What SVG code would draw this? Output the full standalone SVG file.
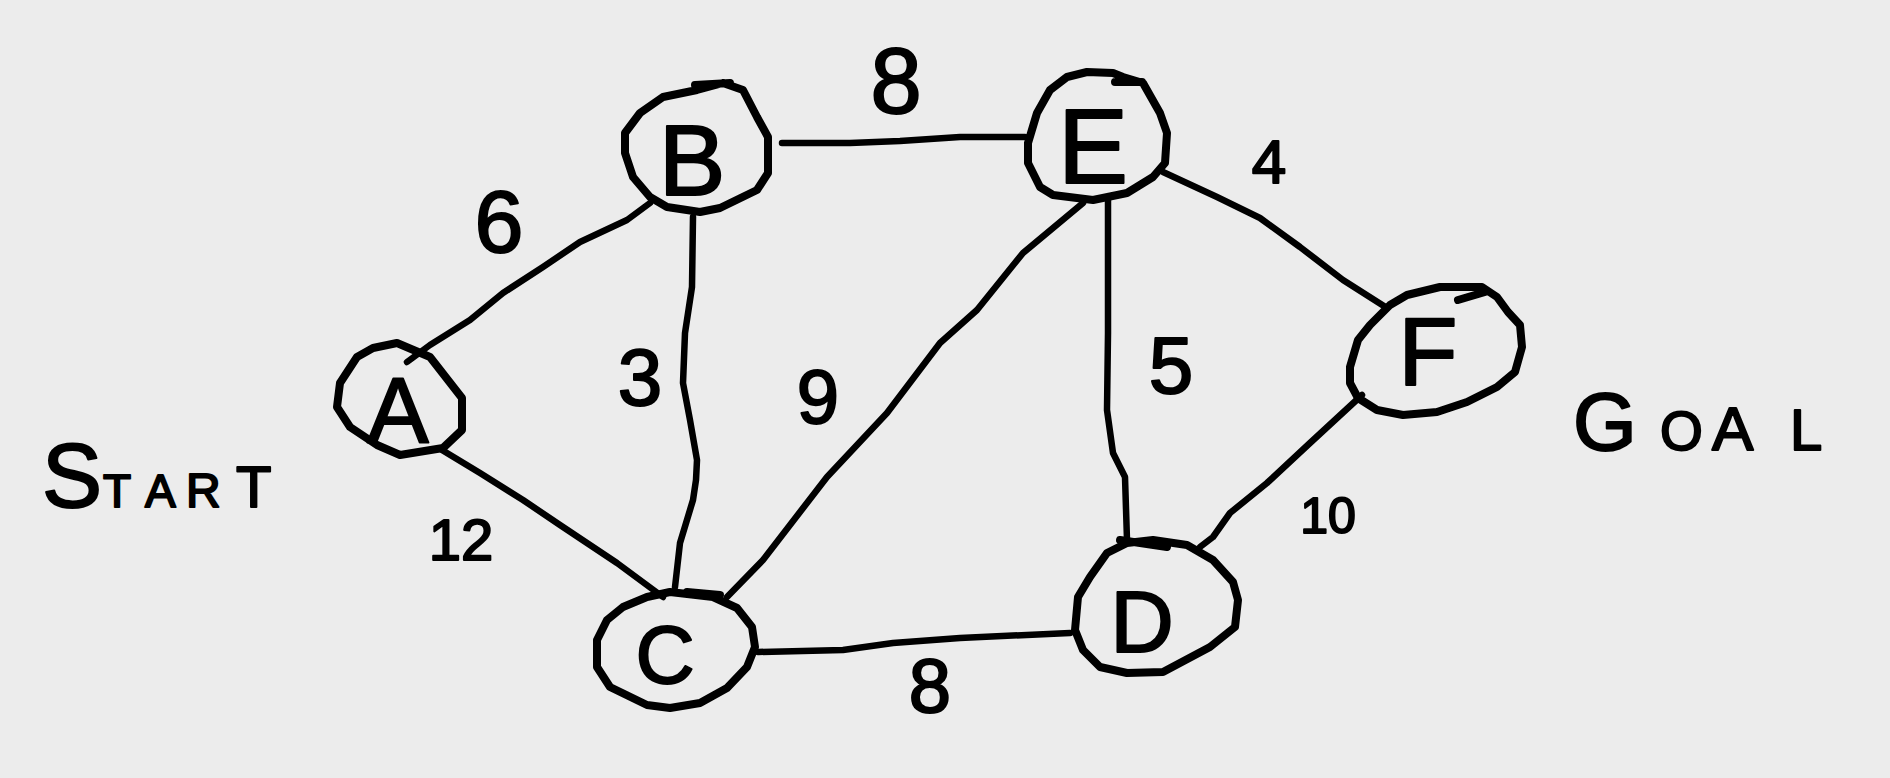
<svg xmlns="http://www.w3.org/2000/svg" width="1890" height="778" viewBox="0 0 1890 778">
<style>
.edge{fill:none;stroke:#000;stroke-width:6.5;stroke-linecap:round;stroke-linejoin:round}
.node{fill:none;stroke:#000;stroke-width:8;stroke-linecap:round;stroke-linejoin:round}
.lbl{font-family:"Liberation Sans",Arial,sans-serif;fill:#000;stroke:#000;stroke-width:2;stroke-linejoin:round;text-anchor:middle}
.w{font-family:"Liberation Sans",Arial,sans-serif;fill:#000;stroke:#000;stroke-width:2;stroke-linejoin:round}
</style>
<rect width="1890" height="778" fill="#ececec"/>
<g id="connectors">
<path class="edge" d="M407 362 L430 345 L470 320 L503 293 L543 267 L580 242 L627 220 L650 203"/>
<path class="edge" d="M442 450 L480 473 L523 500 L560 525 L617 563 L663 597"/>
<path class="edge" d="M693 217 L692 287 L685 333 L683 383 L690 420 L697 460 L696 480 L693 500 L680 543 L675 587"/>
<path class="edge" d="M782 143 L850 143 L900 141 L960 137 L1025 137"/>
<path class="edge" d="M1083 203 L1023 253 L977 310 L940 343 L887 413 L827 477 L763 560 L727 597"/>
<path class="edge" d="M1108 200 L1108 333 L1107 410 L1113 453 L1125 477 L1127 540"/>
<path class="edge" d="M1163 172 L1217 197 L1260 218 L1300 247 L1343 280 L1387 308"/>
<path class="edge" d="M1362 395 L1310 443 L1267 483 L1230 513 L1213 537 L1200 547"/>
<path class="edge" d="M758 652 L843 650 L893 643 L960 638 L1070 633"/>
</g>
<g id="node-A">
<path class="node" d="M397 343 L430 357 L462 398 L462 430 L443 448 L400 455 L377 445 L350 427 L337 407 L340 383 L357 357 L373 348 Z"/>
<text class="lbl" x="398" y="443" font-size="92">A</text>
</g>
<g id="node-B">
<path class="node" d="M723 83 L743 90 L757 117 L768 137 L768 173 L757 190 L720 208 L700 212 L667 207 L650 197 L633 177 L625 153 L625 133 L640 113 L663 97 L697 90 Z M695 85 L730 83"/>
<text class="lbl" x="692" y="195" font-size="100">B</text>
</g>
<g id="node-E">
<path class="node" d="M1123 77 L1143 83 L1160 113 L1167 133 L1165 163 L1153 177 L1127 193 L1093 200 L1053 195 L1040 187 L1028 163 L1028 143 L1037 113 L1050 90 L1067 77 L1087 72 L1113 73 Z M1115 82 L1142 82"/>
<text class="lbl" x="1093" y="183" font-size="105">E</text>
</g>
<g id="node-F">
<path class="node" d="M1440 287 L1482 287 L1497 297 L1508 312 L1520 325 L1522 347 L1515 372 L1497 387 L1467 402 L1437 412 L1403 415 L1377 410 L1358 398 L1350 383 L1350 367 L1358 340 L1370 325 L1390 305 L1407 295 Z M1458 300 L1485 292"/>
<text class="lbl" x="1428" y="385" font-size="97">F</text>
</g>
<g id="node-C">
<path class="node" d="M670 592 L713 597 L737 608 L752 627 L755 647 L747 667 L727 688 L700 703 L670 708 L647 705 L610 687 L597 667 L597 640 L607 620 L623 607 L647 597 Z M687 592 L720 595"/>
<text class="lbl" x="665" y="683" font-size="82">C</text>
</g>
<g id="node-D">
<path class="node" d="M1153 540 L1187 545 L1213 560 L1233 582 L1238 600 L1235 627 L1210 647 L1163 672 L1127 673 L1100 667 L1083 650 L1075 630 L1078 597 L1090 577 L1107 553 L1127 543 Z M1120 540 L1167 547"/>
<text class="lbl" x="1142" y="652" font-size="88">D</text>
</g>
<g id="edge-labels">
<text class="lbl" x="499" y="252" font-size="88">6</text>
<text class="lbl" x="896" y="113" font-size="92">8</text>
<text class="lbl" x="1269" y="183" font-size="62">4</text>
<text class="lbl" x="640" y="405" font-size="80">3</text>
<text class="lbl" x="818" y="423" font-size="76">9</text>
<text class="lbl" x="1171" y="393" font-size="80">5</text>
<text class="lbl" x="461" y="560" font-size="58">12</text>
<text class="lbl" x="1328" y="533" font-size="50">10</text>
<text class="lbl" x="930" y="712" font-size="76">8</text>
</g>
<g id="labels">
<text class="w" y="507"><tspan x="42" font-size="90">S</tspan><tspan x="103" font-size="46">T</tspan><tspan x="145" font-size="46">A</tspan><tspan x="186" font-size="48">R</tspan><tspan x="236" font-size="58">T</tspan></text>
<text class="w" y="450"><tspan x="1573" font-size="82">G</tspan><tspan x="1660" font-size="55">O</tspan><tspan x="1712" font-size="62">A</tspan><tspan x="1790" font-size="58">L</tspan></text>
</g>
</svg>
